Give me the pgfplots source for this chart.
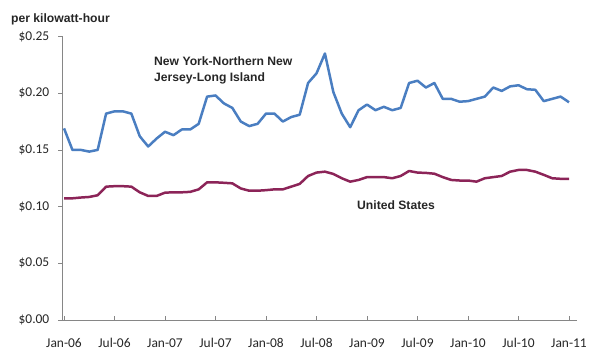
\documentclass[border=0pt]{standalone}
\usepackage{fontspec}
\setmainfont{Carlito}
\newfontfamily\arialf{Liberation Sans}
\usepackage{pgfplots}
\pgfplotsset{compat=1.18}
\definecolor{nyblue}{RGB}{74,126,193}
\definecolor{usmaroon}{RGB}{140,36,88}
\definecolor{axgray}{RGB}{134,134,134}
\begin{document}
\begin{tikzpicture}
\path[use as bounding box] (0,0) rectangle (591bp,350bp);
\begin{axis}[
  at={(62bp,30bp)}, anchor=south west,
  scale only axis, width=515bp, height=283.5bp,
  xmin=-0.24, xmax=60.95, ymin=0, ymax=0.25,
  axis x line=bottom, axis y line=left,
  axis line style={axgray, line width=1pt, -},
  xtick={0,6,...,60},
  xticklabels={Jan-06,Jul-06,Jan-07,Jul-07,Jan-08,Jul-08,Jan-09,Jul-09,Jan-10,Jul-10,Jan-11},
  ytick={0,0.05,0.10,0.15,0.20,0.25},
  yticklabels={\$0.00,\$0.05,\$0.10,\$0.15,\$0.20,\$0.25},
  x tick style={axgray, line width=0.6pt},
  y tick style={axgray, line width=0.6pt},
  xtick align=inside, ytick align=outside,
  major tick length=3.5bp,
  tick label style={font=\fontsize{13.5}{15}\selectfont, text=black!85},
  xticklabel style={anchor=base, inner sep=0pt, yshift=-27.5bp},
  yticklabel style={anchor=east, inner sep=0pt, xshift=-9bp},
  clip=false,
]
\addplot[nyblue, line width=2.5pt, line join=round] coordinates {
(0,0.169)(1,0.150)(2,0.150)(3,0.1485)(4,0.150)(5,0.182)(6,0.184)(7,0.184)(8,0.182)(9,0.162)
(10,0.153)(11,0.160)(12,0.166)(13,0.163)(14,0.168)(15,0.168)(16,0.173)(17,0.197)(18,0.198)(19,0.191)
(20,0.187)(21,0.175)(22,0.171)(23,0.173)(24,0.182)(25,0.182)(26,0.175)(27,0.179)(28,0.181)(29,0.209)
(30,0.2175)(31,0.235)(32,0.201)(33,0.182)(34,0.170)(35,0.185)(36,0.190)(37,0.185)(38,0.188)(39,0.185)
(40,0.187)(41,0.209)(42,0.211)(43,0.205)(44,0.209)(45,0.195)(46,0.195)(47,0.1925)(48,0.193)(49,0.195)
(50,0.197)(51,0.205)(52,0.202)(53,0.206)(54,0.207)(55,0.2035)(56,0.203)(57,0.193)(58,0.195)(59,0.197)
(60,0.192)
};
\addplot[usmaroon, line width=2.5pt, line join=round] coordinates {
(0,0.1073)(1,0.1073)(2,0.108)(3,0.1085)(4,0.110)(5,0.1176)(6,0.118)(7,0.118)(8,0.1176)(9,0.1126)
(10,0.1094)(11,0.1094)(12,0.1123)(13,0.1126)(14,0.1126)(15,0.113)(16,0.1152)(17,0.1214)(18,0.1214)(19,0.121)
(20,0.1205)(21,0.116)(22,0.114)(23,0.114)(24,0.1145)(25,0.1152)(26,0.1152)(27,0.1176)(28,0.120)(29,0.127)
(30,0.130)(31,0.1308)(32,0.1288)(33,0.125)(34,0.122)(35,0.1235)(36,0.126)(37,0.126)(38,0.126)(39,0.125)
(40,0.127)(41,0.1314)(42,0.130)(43,0.1297)(44,0.129)(45,0.126)(46,0.1235)(47,0.123)(48,0.123)(49,0.122)
(50,0.125)(51,0.126)(52,0.127)(53,0.1308)(54,0.1323)(55,0.1323)(56,0.1308)(57,0.128)(58,0.125)(59,0.1245)
(60,0.1245)
};
\end{axis}
\node[anchor=base west, inner sep=0pt, font=\arialf\bfseries\fontsize{12.2}{14}\selectfont, text=black!85] at (11bp,327bp) {per kilowatt-hour};
\node[anchor=base west, inner sep=0pt, font=\arialf\bfseries\fontsize{12.2}{14}\selectfont, text=black!85] at (154bp,284.5bp) {New York-Northern New};
\node[anchor=base west, inner sep=0pt, font=\arialf\bfseries\fontsize{12.2}{14}\selectfont, text=black!85] at (154bp,268.5bp) {Jersey-Long Island};
\node[anchor=base west, inner sep=0pt, font=\arialf\bfseries\fontsize{12.2}{14}\selectfont, text=black!85] at (357bp,140.5bp) {United States};
\end{tikzpicture}
\end{document}
